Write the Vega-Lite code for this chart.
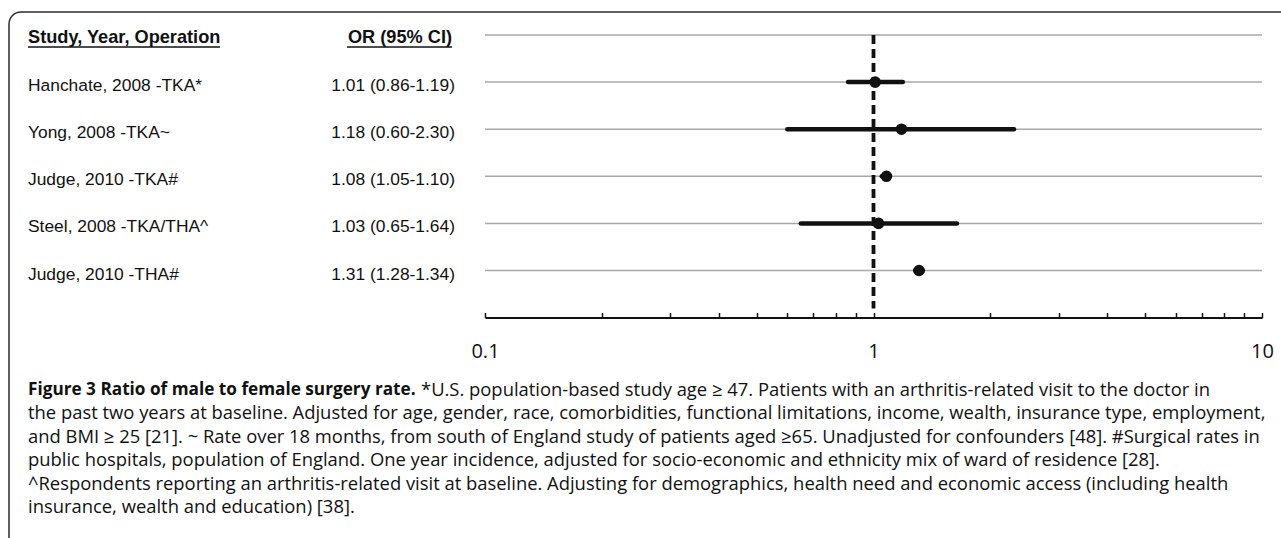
{
  "$schema": "https://vega.github.io/schema/vega-lite/v6.json",
  "width": 1287,
  "height": 541,
  "autosize": {"type": "none"},
  "padding": {"left": 9, "top": 12, "right": -15, "bottom": -15},
  "background": "white",
  "config": {
    "view": {"stroke": "#2b2b2b", "strokeWidth": 1.5, "cornerRadius": 12},
    "text": {"color": "#111111"}
  },
  "datasets": {
    "studies": [
      {"study": "Hanchate, 2008 -TKA*", "or": 1.01, "lo": 0.86, "hi": 1.19, "ci": "1.01 (0.86-1.19)"},
      {"study": "Yong, 2008 -TKA~", "or": 1.18, "lo": 0.60, "hi": 2.30, "ci": "1.18 (0.60-2.30)"},
      {"study": "Judge, 2010 -TKA#", "or": 1.08, "lo": 1.05, "hi": 1.10, "ci": "1.08 (1.05-1.10)"},
      {"study": "Steel, 2008 -TKA/THA^", "or": 1.03, "lo": 0.65, "hi": 1.64, "ci": "1.03 (0.65-1.64)"},
      {"study": "Judge, 2010 -THA#", "or": 1.31, "lo": 1.28, "hi": 1.34, "ci": "1.31 (1.28-1.34)"}
    ],
    "header": [
      {"study": "Study, Year, Operation", "or_label": "OR (95% CI)"}
    ],
    "caption": [
      {"line": 1, "part": "bold", "text": "Figure 3 Ratio of male to female surgery rate."},
      {"line": 1, "part": "rest", "text": "*U.S. population-based study age ≥ 47. Patients with an arthritis-related visit to the doctor in"},
      {"line": 2, "part": "body", "text": "the past two years at baseline. Adjusted for age, gender, race, comorbidities, functional limitations, income, wealth, insurance type, employment,"},
      {"line": 3, "part": "body", "text": "and BMI ≥ 25 [21]. ~ Rate over 18 months, from south of England study of patients aged ≥65. Unadjusted for confounders [48]. #Surgical rates in"},
      {"line": 4, "part": "body", "text": "public hospitals, population of England. One year incidence, adjusted for socio-economic and ethnicity mix of ward of residence [28]."},
      {"line": 5, "part": "body", "text": "^Respondents reporting an arthritis-related visit at baseline. Adjusting for demographics, health need and economic access (including health"},
      {"line": 6, "part": "body", "text": "insurance, wealth and education) [38]."}
    ]
  },
  "resolve": {"scale": {"y": "independent"}},
  "layer": [
    {
      "layer": [
        {
          "data": {"name": "studies"},
          "mark": {"type": "rule", "color": "#a8a8a8", "strokeWidth": 1.5},
          "encoding": {
            "x": {
              "datum": 0.1,
              "type": "quantitative",
              "scale": {"type": "log", "domain": [0.1, 10], "range": [476, 1253], "nice": false},
              "axis": {
                "orient": "bottom",
                "offset": -235.5,
                "title": null,
                "grid": false,
                "values": [0.1, 0.2, 0.3, 0.4, 0.5, 0.6, 0.7, 0.8, 0.9, 1, 2, 3, 4, 5, 6, 7, 8, 9, 10],
                "labelExpr": "datum.value == 0.1 ? '0.1' : datum.value == 1 ? '1' : datum.value == 10 ? '10' : ''",
                "tickSize": -5,
                "tickColor": "#111111",
                "tickWidth": 1.5,
                "domainColor": "#111111",
                "domainWidth": 2,
                "labelFont": "Open Sans",
                "labelFontSize": 20,
                "labelColor": "#111111",
                "labelBaseline": "alphabetic",
                "labelPadding": 45,
                "labelFlush": false,
                "labelOverlap": false
              }
            },
            "x2": {"datum": 10},
            "y": {
              "field": "study",
              "type": "ordinal",
              "scale": {
                "type": "point",
                "domain": ["Study, Year, Operation", "Hanchate, 2008 -TKA*", "Yong, 2008 -TKA~", "Judge, 2010 -TKA#", "Steel, 2008 -TKA/THA^", "Judge, 2010 -THA#"],
                "range": [23, 258.5],
                "padding": 0
              },
              "axis": null
            }
          }
        },
        {
          "data": {"name": "header"},
          "mark": {"type": "rule", "color": "#a8a8a8", "strokeWidth": 1.5},
          "encoding": {
            "x": {"datum": 0.1, "type": "quantitative"},
            "x2": {"datum": 10},
            "y": {"field": "study", "type": "ordinal", "axis": null}
          }
        },
        {
          "data": {"name": "header"},
          "mark": {"type": "rule", "color": "#111111", "strokeWidth": 3.8, "strokeDash": [9, 5], "y2Offset": 38},
          "encoding": {
            "x": {"datum": 1, "type": "quantitative"},
            "y": {"field": "study", "type": "ordinal", "axis": null},
            "y2": {"datum": "Judge, 2010 -THA#"}
          }
        },
        {
          "data": {"name": "studies"},
          "mark": {"type": "rule", "color": "#111111", "strokeWidth": 4.5, "strokeCap": "round"},
          "encoding": {
            "x": {"field": "lo", "type": "quantitative", "axis": {"title": null}},
            "x2": {"field": "hi"},
            "y": {"field": "study", "type": "ordinal", "axis": null}
          }
        },
        {
          "data": {"name": "studies"},
          "mark": {"type": "circle", "color": "#111111", "opacity": 1, "size": 135},
          "encoding": {
            "x": {"field": "or", "type": "quantitative", "axis": {"title": null}},
            "y": {"field": "study", "type": "ordinal", "axis": null}
          }
        },
        {
          "data": {"name": "studies"},
          "mark": {"type": "text", "align": "left", "baseline": "middle", "dx": -457, "dy": 4, "font": "Liberation Sans", "fontSize": 17.4},
          "encoding": {
            "x": {"datum": 0.1, "type": "quantitative"},
            "y": {"field": "study", "type": "ordinal", "axis": null},
            "text": {"field": "study"}
          }
        },
        {
          "data": {"name": "studies"},
          "mark": {"type": "text", "align": "right", "baseline": "middle", "dx": -30, "dy": 4, "font": "Liberation Sans", "fontSize": 17.4},
          "encoding": {
            "x": {"datum": 0.1, "type": "quantitative"},
            "y": {"field": "study", "type": "ordinal", "axis": null},
            "text": {"field": "ci"}
          }
        },
        {
          "data": {"name": "header"},
          "mark": {"type": "text", "align": "left", "baseline": "middle", "dx": -457, "dy": 3, "font": "Liberation Sans", "fontSize": 18.2, "fontWeight": "bold"},
          "encoding": {
            "x": {"datum": 0.1, "type": "quantitative"},
            "y": {"field": "study", "type": "ordinal", "axis": null},
            "text": {"field": "study"}
          }
        },
        {
          "data": {"name": "header"},
          "mark": {"type": "text", "align": "right", "baseline": "middle", "dx": -33, "dy": 3, "font": "Liberation Sans", "fontSize": 18.2, "fontWeight": "bold"},
          "encoding": {
            "x": {"datum": 0.1, "type": "quantitative"},
            "y": {"field": "study", "type": "ordinal", "axis": null},
            "text": {"field": "or_label"}
          }
        },
        {
          "data": {"name": "header"},
          "mark": {"type": "rule", "color": "#111111", "strokeWidth": 1.6, "xOffset": -457, "x2Offset": -265, "yOffset": 12},
          "encoding": {
            "x": {"datum": 0.1, "type": "quantitative"},
            "x2": {"datum": 0.1},
            "y": {"field": "study", "type": "ordinal", "axis": null}
          }
        },
        {
          "data": {"name": "header"},
          "mark": {"type": "rule", "color": "#111111", "strokeWidth": 1.6, "xOffset": -138, "x2Offset": -33, "yOffset": 12},
          "encoding": {
            "x": {"datum": 0.1, "type": "quantitative"},
            "x2": {"datum": 0.1},
            "y": {"field": "study", "type": "ordinal", "axis": null}
          }
        }
      ]
    },
    {
      "data": {"name": "caption"},
      "encoding": {
        "x": {"datum": 0.1, "type": "quantitative"},
        "y": {
          "field": "line",
          "type": "ordinal",
          "scale": {"type": "point", "domain": [1, 2, 3, 4, 5, 6], "range": [378, 495], "padding": 0},
          "axis": null
        },
        "text": {"field": "text"}
      },
      "layer": [
        {
          "transform": [{"filter": "datum.part == 'bold'"}],
          "mark": {"type": "text", "align": "left", "baseline": "middle", "dx": -457, "font": "Open Sans", "fontSize": 17.2, "fontWeight": "bold"}
        },
        {
          "transform": [{"filter": "datum.part == 'rest'"}],
          "mark": {"type": "text", "align": "left", "baseline": "middle", "dx": -64, "font": "Open Sans", "fontSize": 18.4}
        },
        {
          "transform": [{"filter": "datum.part == 'body'"}],
          "mark": {"type": "text", "align": "left", "baseline": "middle", "dx": -457, "font": "Open Sans", "fontSize": 18.4}
        }
      ]
    }
  ]
}
